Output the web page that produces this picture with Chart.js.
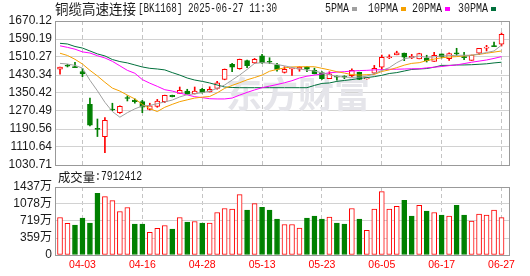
<!DOCTYPE html>
<html>
<head>
<meta charset="utf-8">
<script src="https://cdn.jsdelivr.net/npm/chart.js@4.4.1/dist/chart.umd.min.js"></script>
<style>
    html, body { margin: 0; padding: 0; background: #fff; }
    #wrap { position: relative; width: 530px; height: 276px; }
    #wrap canvas { position: absolute; left: 0; top: 0; }
</style>
</head>
<body>
<div id="wrap">
    <canvas id="kline" width="530" height="276"></canvas>
    <canvas id="vol" width="530" height="276"></canvas>
</div>
<script>
// -------- DATA --------
const boardName = "铜缆高速连接";
const boardCode = "[BK1168]";
const quoteTime = "2025-06-27 11:30";
const lastVol = "7912412";

const dates = [
    "03-31", "04-01", "04-02", "04-03", "04-07", "04-08", "04-09", "04-10", "04-11", "04-14",
    "04-15", "04-16", "04-17", "04-18", "04-21", "04-22", "04-23", "04-24", "04-25", "04-28",
    "04-29", "04-30", "05-06", "05-07", "05-08", "05-09", "05-12", "05-13", "05-14", "05-15",
    "05-16", "05-19", "05-20", "05-21", "05-22", "05-23", "05-26", "05-27", "05-28", "05-29",
    "05-30", "06-03", "06-04", "06-05", "06-06", "06-09", "06-10", "06-11", "06-12", "06-13",
    "06-16", "06-17", "06-18", "06-19", "06-20", "06-23", "06-24", "06-25", "06-26", "06-27"
];
const tickDates = ["04-03", "04-16", "04-28", "05-13", "05-23", "06-05", "06-17", "06-27"];

const openP = [
    1456, 1472, 1466, 1445, 1300, 1194, 1156, 1278, 1263, 1329,
    1319, 1312, 1278, 1291, 1312, 1340, 1349, 1359, 1346, 1367,
    1355, 1371, 1411, 1478, 1458, 1494, 1484, 1515, 1490, 1476,
    1442, 1457, 1456, 1467, 1451, 1441, 1414, 1424, 1424, 1427,
    1442, 1413, 1438, 1465, 1507, 1520, 1528, 1506, 1502, 1506,
    1491, 1524, 1503, 1527, 1512, 1495, 1527, 1550, 1559, 1567
];
const highP = [
    1465, 1478, 1487, 1460, 1328, 1235, 1241, 1305, 1293, 1338,
    1325, 1318, 1305, 1322, 1341, 1341, 1377, 1367, 1377, 1371,
    1378, 1402, 1457, 1482, 1501, 1497, 1504, 1522, 1507, 1482,
    1467, 1463, 1467, 1467, 1461, 1445, 1445, 1427, 1427, 1458,
    1443, 1417, 1473, 1519, 1520, 1536, 1528, 1522, 1527, 1518,
    1531, 1524, 1529, 1549, 1531, 1519, 1549, 1562, 1577, 1617
];
const lowP = [
    1434, 1466, 1463, 1423, 1204, 1157, 1085, 1272, 1260, 1315,
    1305, 1263, 1275, 1287, 1308, 1333, 1349, 1343, 1346, 1350,
    1355, 1367, 1409, 1445, 1456, 1463, 1481, 1482, 1481, 1447,
    1439, 1429, 1447, 1445, 1435, 1411, 1414, 1407, 1414, 1423,
    1410, 1412, 1435, 1455, 1503, 1520, 1494, 1503, 1502, 1488,
    1491, 1506, 1495, 1518, 1498, 1495, 1521, 1537, 1556, 1559
];
const closeP = [
    1465, 1469, 1463, 1435, 1208, 1189, 1229, 1275, 1291, 1326,
    1312, 1287, 1294, 1315, 1340, 1334, 1362, 1347, 1359, 1353,
    1367, 1396, 1455, 1465, 1500, 1472, 1500, 1485, 1487, 1455,
    1455, 1461, 1465, 1456, 1436, 1414, 1435, 1421, 1421, 1451,
    1411, 1416, 1460, 1509, 1511, 1529, 1510, 1513, 1525, 1494,
    1518, 1512, 1526, 1524, 1507, 1519, 1549, 1553, 1556, 1611
];

const ma5 = [
    1482, 1479, 1473, 1461, 1407, 1360, 1309, 1268, 1243, 1263,
    1280, 1293, 1295, 1303, 1311, 1319, 1333, 1343, 1347, 1352,
    1359, 1371, 1386, 1408, 1430, 1455, 1482, 1485, 1483, 1477,
    1471, 1464, 1457, 1452, 1448, 1440, 1431, 1424, 1421, 1420,
    1421, 1425, 1437, 1450, 1463, 1485, 1502, 1509, 1514, 1509,
    1511, 1515, 1516, 1518, 1518, 1518, 1524, 1530, 1537, 1563
];
const ma10 = [
    1527, 1517, 1500, 1479, 1451, 1426, 1398, 1372, 1359, 1341,
    1324, 1300, 1281, 1268, 1287, 1300, 1312, 1320, 1328, 1332,
    1335, 1351, 1371, 1384, 1396, 1409, 1419, 1430, 1447, 1455,
    1462, 1466, 1467, 1467, 1467, 1460, 1453, 1445, 1439, 1432,
    1430, 1432, 1433, 1446, 1453, 1463, 1474, 1482, 1485, 1494,
    1501, 1507, 1510, 1512, 1515, 1518, 1522, 1527, 1532, 1537
];
const ma20 = [
    1560, 1553, 1545, 1533, 1528, 1516, 1506, 1491, 1471, 1451,
    1438, 1410, 1394, 1380, 1365, 1359, 1350, 1342, 1334, 1330,
    1325, 1324, 1324, 1328, 1341, 1353, 1364, 1374, 1381, 1388,
    1396, 1405, 1417, 1425, 1430, 1435, 1440, 1443, 1445, 1448,
    1450, 1451, 1453, 1454, 1456, 1456, 1457, 1458, 1458, 1462,
    1465, 1468, 1472, 1475, 1481, 1487, 1492, 1497, 1504, 1512
];
const ma30 = [
    1571, 1568, 1557, 1550, 1537, 1524, 1515, 1499, 1490, 1484,
    1475, 1466, 1460, 1457, 1453, 1441, 1430, 1417, 1408, 1402,
    1395, 1386, 1377, 1375, 1374, 1374, 1374, 1374, 1374, 1374,
    1374, 1374, 1374, 1374, 1384, 1393, 1395, 1402, 1406, 1410,
    1415, 1419, 1423, 1429, 1437, 1441, 1448, 1455, 1457, 1459,
    1465, 1473, 1473, 1475, 1475, 1476, 1478, 1480, 1484, 1487
];

// volume in 万, volUp: 1 = red bar, 0 = green bar
const vol = [
    793, 667, 631, 778, 673, 1304, 1234, 1150, 919, 1003,
    652, 652, 477, 561, 624, 547, 793, 694, 708, 673,
    673, 898, 982, 968, 1277, 947, 1087, 1010, 947, 757,
    645, 645, 568, 778, 821, 757, 800, 673, 652, 982,
    757, 519, 968, 1340, 968, 1031, 1157, 821, 1052, 926,
    898, 842, 821, 1052, 842, 715, 863, 842, 947, 791
];
const volUp = [
    1, 1, 0, 0, 0, 0, 1, 1, 1, 1,
    0, 0, 1, 1, 1, 0, 1, 0, 1, 0,
    1, 1, 1, 1, 1, 0, 1, 0, 0, 0,
    1, 1, 1, 0, 0, 0, 1, 0, 0, 1,
    0, 1, 1, 1, 1, 1, 0, 0, 1, 0,
    1, 0, 1, 0, 0, 1, 1, 1, 1, 1
];

const priceTicks = [1030.71, 1110.64, 1190.56, 1270.49, 1350.42, 1430.34, 1510.27, 1590.19, 1670.12];
const volTicks = [0, 359, 719, 1078, 1437];
const maNames = ["5PMA", "10PMA", "20PMA", "30PMA"];

// -------- STYLE --------
const UP = "#ff0000";
const DOWN = "#008000";
const maColors = ["#a0a0a0", "#f5a000", "#ff00ff", "#00703c"];
const FONT = "'Liberation Sans', Arial, 'Noto Sans CJK SC', sans-serif";
const TEXT = "#1a1a1a";
const X_MIN = -0.67, X_MAX = 60;

const idx = dates.map((d, i) => i);
const tickIdx = tickDates.map(d => dates.indexOf(d));
const candleUp = idx.map(i => closeP[i] >= openP[i]);

function xAxis(showLabels) {
    return {
        type: "linear",
        min: X_MIN,
        max: X_MAX,
        offset: false,
        afterBuildTicks: s => { s.ticks = tickIdx.map(v => ({ value: v })); },
        afterFit: s => { s.height = showLabels ? 21 : 0; },
        grid: { color: "#c4c4c4", drawTicks: false, offset: false },
        border: { display: false, dash: [4, 3] },
        ticks: {
            display: showLabels,
            autoSkip: false,
            maxRotation: 0,
            minRotation: 0,
            padding: 4,
            color: UP,
            font: { family: FONT, size: 10.5 },
            callback: v => dates[v]
        }
    };
}

function yAxis(min, max, list, fmt) {
    return {
        min, max,
        beginAtZero: false,
        afterBuildTicks: s => { s.ticks = list.map(v => ({ value: v })); },
        afterFit: s => { s.width = 55; },
        grid: { color: "#d2d2d2", drawTicks: false },
        border: { display: false },
        ticks: {
            autoSkip: false,
            padding: 3,
            color: TEXT,
            font: { family: FONT, size: 12 },
            callback: fmt
        }
    };
}

const framePlugin = {
    id: "frame",
    afterDraw(chart) {
        const { ctx, chartArea: a } = chart;
        ctx.save();
        ctx.strokeStyle = "#999";
        ctx.lineWidth = 1;
        ctx.strokeRect(Math.round(a.left) + 0.5, Math.round(a.top) + 0.5,
            Math.round(a.right - a.left), Math.round(a.bottom - a.top));
        ctx.restore();
    }
};

// title, legend and watermark on the price panel
const headerPlugin = {
    id: "header",
    beforeDatasetsDraw(chart) {
        const ctx = chart.ctx;
        ctx.save();
        ctx.fillStyle = "#e5e5ea";
        ctx.font = "bold 36px 'Noto Sans CJK SC'";
        ctx.textBaseline = "middle";
        ctx.fillText("东方财富", 226, 94, 146);
        ctx.restore();
    },
    afterDraw(chart) {
        const ctx = chart.ctx;
        ctx.save();
        ctx.textBaseline = "middle";
        ctx.fillStyle = TEXT;
        ctx.font = "13.5px 'Noto Sans CJK SC'";
        ctx.fillText(boardName, 55, 9, 82);
        ctx.font = "12px 'Liberation Mono'";
        ctx.fillText(boardCode + " " + quoteTime, 138, 9, 139);

        const legendX = [325, 368, 412, 458];
        maNames.forEach((n, k) => {
            const w = n.length * 6;
            ctx.fillStyle = TEXT;
            ctx.fillText(n, legendX[k], 9, w);
            ctx.fillStyle = maColors[k];
            ctx.fillRect(legendX[k] + w + 3, 7, 5, 4);
        });
        ctx.restore();
    }
};

const volLabelPlugin = {
    id: "volLabel",
    afterDraw(chart) {
        const ctx = chart.ctx;
        ctx.save();
        ctx.textBaseline = "middle";
        ctx.fillStyle = TEXT;
        ctx.font = "12.5px 'Noto Sans CJK SC'";
        ctx.fillText("成交量", 58, 177, 37);
        ctx.font = "12px 'Liberation Mono'";
        ctx.fillText(":" + lastVol, 95, 177, 47);
        ctx.restore();
    }
};

const common = {
    responsive: false,
    animation: false,
    events: [],
    plugins: { legend: { display: false }, tooltip: { enabled: false } }
};

// -------- PRICE PANEL --------
new Chart(document.getElementById("kline"), {
    type: "bar",
    data: {
        datasets: [
            {
                data: idx.map(i => ({ x: i, y: [lowP[i], highP[i]] })),
                backgroundColor: idx.map(i => candleUp[i] ? UP : DOWN),
                barThickness: 1,
                grouped: false,
                order: 3
            },
            {
                data: idx.map(i => ({ x: i, y: [openP[i], closeP[i]] })),
                backgroundColor: idx.map(i => candleUp[i] ? "#fff" : DOWN),
                borderColor: idx.map(i => candleUp[i] ? UP : DOWN),
                borderWidth: 1,
                borderSkipped: false,
                barThickness: 5,
                minBarLength: 1,
                grouped: false,
                order: 2
            },
            ...[ma5, ma10, ma20, ma30].map((arr, k) => ({
                type: "line",
                data: arr.map((v, i) => ({ x: i, y: v })),
                borderColor: maColors[k],
                borderWidth: 1,
                pointRadius: 0,
                tension: 0,
                order: 1
            }))
        ]
    },
    options: {
        ...common,
        layout: { padding: { left: 0, right: 21, top: 21, bottom: 111 } },
        scales: {
            x: xAxis(false),
            y: yAxis(1030.71, 1670.12, priceTicks, v => v.toFixed(2))
        }
    },
    plugins: [framePlugin, headerPlugin]
});

// -------- VOLUME PANEL --------
new Chart(document.getElementById("vol"), {
    type: "bar",
    data: {
        datasets: [{
            data: idx.map(i => ({ x: i, y: vol[i] })),
            backgroundColor: idx.map(i => volUp[i] ? "#fff" : DOWN),
            borderColor: idx.map(i => volUp[i] ? UP : DOWN),
            borderWidth: 1,
            borderSkipped: false,
            barThickness: 5,
            grouped: false
        }]
    },
    options: {
        ...common,
        layout: { padding: { left: 0, right: 21, top: 187, bottom: 0 } },
        scales: {
            x: xAxis(true),
            y: yAxis(0, 1437, volTicks, v => v === 0 ? "0" : v + "万")
        }
    },
    plugins: [framePlugin, volLabelPlugin]
});
</script>
</body>
</html>
